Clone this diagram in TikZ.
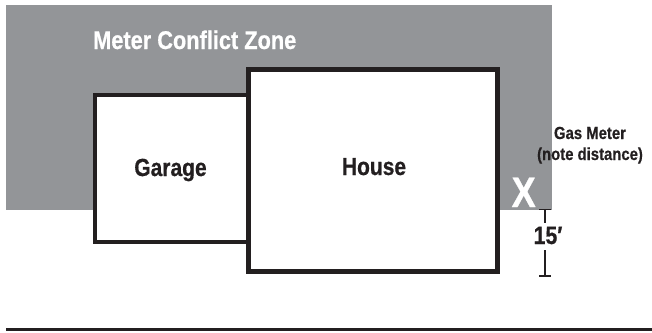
\documentclass[tikz,border=0pt]{standalone}
\usepackage{fontspec}
\setmainfont{Liberation Sans}[BoldFont={Liberation Sans Bold},BoldFeatures={FakeStretch=0.85,FakeBold=0.6}]
\definecolor{zone}{HTML}{939598}
\definecolor{ink}{HTML}{231F20}
\tikzset{
  x=1pt,y=-1pt,
  lbl/.style={font=\bfseries\fontsize{#1}{#1}\selectfont,text=ink,inner sep=0pt,align=center},
  lbl/.default=18,
  wall/.style={draw=ink,fill=white,line join=miter},
  tickmark/.style={draw=ink,line width=1.3pt}
}
\begin{document}
\begin{tikzpicture}
\useasboundingbox (0,0) rectangle (652,332);
\fill[zone] (6,5) rectangle (552,210);
\draw[wall,line width=4pt] (94.5,95) rectangle (270,242);
\draw[wall,line width=5pt] (248.5,69.5) rectangle (497.5,271);
\node[lbl=25.6,text=white,anchor=base west] (zoneL) at (93,49) {Meter Conflict Zone};
\node[lbl=24.7,anchor=base] (garage) at (170.5,176) {Garage};
\node[lbl=24.7,anchor=base] (house) at (374,175) {House};
\node[lbl=17.5,anchor=base] (gas) at (590,139) {Gas Meter};
\node[lbl=17.5,anchor=base] (note) at (590,160) {(note distance)};
\node[lbl=42.6,text=white,anchor=base] (x) at (523.7,207) {X};
\node[lbl=25,anchor=base] (dist) at (548,244) {15\char"2032};
\coordinate (t1) at (545,209.5);
\coordinate (t1e) at (545,222.5);
\coordinate (t2) at (545,250);
\coordinate (t2e) at (545,276);
\draw[tickmark] (t1) -- (t1e);
\draw[tickmark] (t2) -- (t2e);
\draw[tickmark] (539,209.5) -- (551,209.5);
\draw[tickmark] (539,276) -- (551,276);
\coordinate (g1) at (6,329.5);
\coordinate (g2) at (652,329.5);
\draw[ink,line width=3pt] (g1) -- (g2);
\end{tikzpicture}
\end{document}
